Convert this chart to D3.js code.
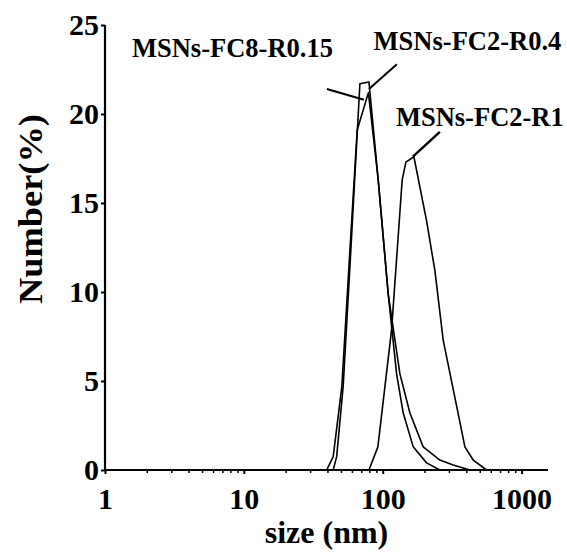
<!DOCTYPE html>
<html>
<head>
<meta charset="utf-8">
<script src="https://cdn.jsdelivr.net/npm/d3@7"></script>
<style>
  html, body { margin: 0; padding: 0; background: #fff; }
  svg text { font-family: "Times New Roman", "Liberation Serif", serif; font-weight: bold; fill: #000; }
</style>
</head>
<body>
<svg id="chart" width="567" height="559"></svg>
<script>
  // Size distributions (size in nm, number in %)
  const sizesFC8 = [39.5, 44.0, 50.8, 58.1, 65.5, 78.9, 92.8, 109.5, 125.9, 140.5, 165.8, 207, 258];
  const numberFC8 = [0, 0.75, 4.7, 12.4, 19.1, 21.2, 16.3, 9.9, 5.4, 3.2, 1.3, 0.4, 0];

  const sizesFC2R04 = [44.0, 46.6, 51.9, 59.0, 68.5, 79.6, 92.8, 109.5, 133, 157, 195.7, 258, 321.8, 424.4];
  const numberFC2R04 = [0, 0.75, 4.7, 12.4, 21.7, 21.8, 16.3, 9.9, 5.4, 3.2, 1.3, 0.56, 0.28, 0];

  const sizesFC2R1 = [79.6, 92.3, 115.9, 138.1, 146.9, 167.7, 207, 237.6, 272.6, 340.4, 390.7, 448.3, 560];
  const numberFC2R1 = [0, 1.3, 7.9, 16.3, 17.3, 17.6, 14.0, 11.2, 7.3, 3.6, 1.3, 0.56, 0];

  const seriesNames = ["MSNs-FC8-R0.15", "MSNs-FC2-R0.4", "MSNs-FC2-R1"];
  const yTicks = [0, 5, 10, 15, 20, 25];
  const xMajorTicks = [1, 10, 100, 1000];

  // label anchors in data space: [line end size, value, line start size, value, text size, value]
  const labelAnchors = [
    [73.2, 20.8, 39.6, 21.4, 43.8, 23.2],
    [79.6, 21.4, 126.5, 22.8, 86.0, 23.6],
    [165, 17.6, 258, 19.0, 124.5, 19.3]
  ];
  const labelAlign = ["end", "start", "start"];

  const svg = d3.select("#chart");

  const x = d3.scaleLog().domain([1, 1550]).range([105, 548]);
  const y = d3.scaleLinear().domain([0, 25]).range([470, 25]);

  const series = [
    d3.zip(sizesFC8, numberFC8),
    d3.zip(sizesFC2R04, numberFC2R04),
    d3.zip(sizesFC2R1, numberFC2R1)
  ];

  const line = d3.line().x(d => x(d[0])).y(d => y(d[1]));

  // Curves
  series.forEach(s => {
    svg.append("path")
      .attr("d", line(s))
      .attr("fill", "none")
      .attr("stroke", "#000")
      .attr("stroke-width", 1.6)
      .attr("stroke-linejoin", "round");
  });

  // Minor x ticks
  const minor = x.ticks().filter(v => !xMajorTicks.includes(v));
  svg.append("g")
    .attr("transform", `translate(0,${y(0)})`)
    .call(d3.axisBottom(x).tickValues(minor).tickSize(3).tickFormat(""))
    .call(g => g.select(".domain").remove())
    .call(g => g.selectAll("line").attr("stroke-width", 1.5));

  // Major x ticks + labels
  svg.append("g")
    .attr("transform", `translate(0,${y(0)})`)
    .call(d3.axisBottom(x).tickValues(xMajorTicks).tickSize(4).tickPadding(14).tickFormat(d3.format("d")))
    .call(g => g.select(".domain").remove())
    .call(g => g.selectAll("line").attr("stroke-width", 2))
    .call(g => g.selectAll("text").attr("font-size", 30).attr("font-family", null));

  // Y axis
  svg.append("g")
    .attr("transform", `translate(${x(1)},0)`)
    .call(d3.axisLeft(y).tickValues(yTicks).tickSize(4).tickPadding(2))
    .call(g => g.select(".domain").remove())
    .call(g => g.selectAll("line").attr("stroke-width", 2))
    .call(g => g.selectAll("text").attr("font-size", 30).attr("font-family", null));

  // Axis lines
  svg.append("line")
    .attr("x1", x(1)).attr("x2", x.range()[1])
    .attr("y1", y(0)).attr("y2", y(0))
    .attr("stroke", "#000").attr("stroke-width", 2.2);
  svg.append("line")
    .attr("x1", x(1)).attr("x2", x(1))
    .attr("y1", y(0) + 1).attr("y2", y(25))
    .attr("stroke", "#000").attr("stroke-width", 2.2);

  // Axis titles
  svg.append("text")
    .attr("x", (x.range()[0] + x.range()[1]) / 2)
    .attr("y", 543)
    .attr("text-anchor", "middle")
    .attr("font-size", 32)
    .text("size (nm)");

  svg.append("text")
    .attr("transform", "translate(42,209) rotate(-90)")
    .attr("text-anchor", "middle")
    .attr("font-size", 33)
    .attr("textLength", 190)
    .attr("lengthAdjust", "spacingAndGlyphs")
    .text("Number(%)");

  // Series labels with leader lines
  labelAnchors.forEach((a, i) => {
    svg.append("line")
      .attr("x1", x(a[2])).attr("y1", y(a[3]))
      .attr("x2", x(a[0])).attr("y2", y(a[1]))
      .attr("stroke", "#000")
      .attr("stroke-width", i === 2 ? 2.4 : 2);
    svg.append("text")
      .attr("x", x(a[4])).attr("y", y(a[5]))
      .attr("text-anchor", labelAlign[i])
      .attr("font-size", 26.5)
      .text(seriesNames[i]);
  });
</script>
</body>
</html>
